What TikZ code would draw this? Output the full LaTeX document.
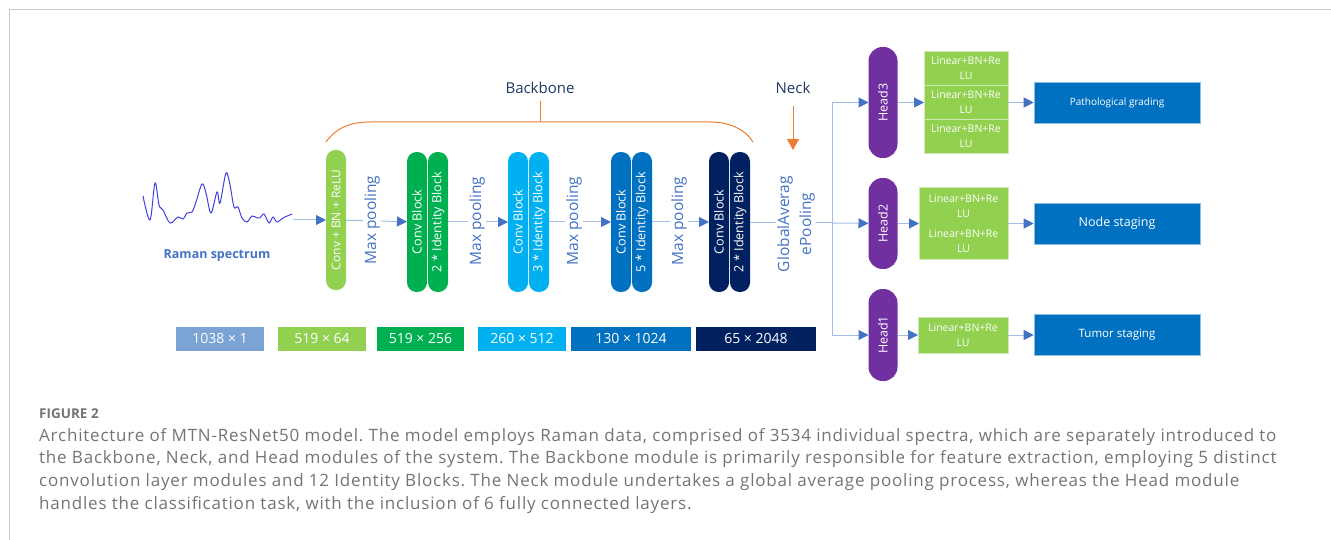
\documentclass[tikz,border=0pt]{standalone}
\usepackage{fontspec}
\setmainfont{Open Sans}
\usetikzlibrary{positioning,arrows.meta}

\definecolor{lgreen}{HTML}{92D050}
\definecolor{dgreen}{HTML}{00B050}
\definecolor{cyanb}{HTML}{00B0F0}
\definecolor{midblue}{HTML}{0070C0}
\definecolor{navyb}{HTML}{002060}
\definecolor{steel}{HTML}{7BA3D4}
\definecolor{headpurple}{HTML}{7030A0}
\definecolor{braceorange}{HTML}{ED7D31}
\definecolor{linkline}{HTML}{A3BFE8}
\definecolor{tipblue}{HTML}{4472C4}
\definecolor{titlenavy}{HTML}{1F3864}
\definecolor{specline}{HTML}{4040E0}
\definecolor{capgray}{HTML}{747474}
\definecolor{framegray}{HTML}{C8C8C8}

\newcommand{\fs}[2]{\fontsize{#1}{#2}\selectfont}

\tikzset{
  block/.style={rounded corners=9.5pt, inner sep=0pt, outer sep=0pt,
    minimum width=20pt, minimum height=140pt, text=white, font=\fs{12.6}{15}},
  head/.style={rounded corners=14pt, inner sep=0pt, outer sep=0pt, fill=headpurple,
    minimum width=29pt, text=white, font=\fs{12.5}{14}},
  lin/.style={fill=lgreen, draw=lgreen!45!white, line width=0.6pt, inner sep=0pt, outer sep=0pt,
    minimum height=34pt, text=white, align=center, font=\fs{10.5}{15}},
  outbox/.style={fill=midblue, draw=midblue!45!white, line width=0.6pt, inner sep=0pt,
    minimum width=166pt, minimum height=41pt, text=white},
  dimbox/.style={inner sep=0pt, minimum height=24pt, text=white, font=\fs{14}{16}},
  pool/.style={rotate=90, fill=white, inner sep=1.5pt, text=tipblue, font=\fs{15.5}{22}, align=center},
  link/.style={draw=linkline, line width=1pt},
  arr/.style={link, -{Triangle[length=10pt,width=10pt,color=tipblue]}},
  brace/.style={draw=braceorange, line width=1pt}
}

\begin{document}
\frenchspacing
\begin{tikzpicture}[x=1pt, y=-1pt]
\useasboundingbox (0,0) rectangle (1331,540);

% frame
\draw[framegray, line width=1pt] (9,540) -- (9,10) -- (1331,10);

% input spectrum
\draw[specline, line width=1pt] plot[smooth, tension=0.55] coordinates {
  (143,196) (150,220) (155,183) (159,205) (163,210) (170,223) (178,217) (183,219)
  (187,213) (192,212) (196,202) (202,184) (206,193) (211,213) (217,192) (220,203)
  (226,173) (230,185) (234,207) (238,207) (242,218) (247,222) (252,216) (257,218)
  (260,218) (264,214) (269,223) (273,217) (277,222) (283,218) (292,214)};
\coordinate (spec) at (293,220);
\node[text=tipblue, font=\bfseries\fs{12.5}{15}] (raman) at (217,256) {Raman spectrum};

% backbone
\node[block, fill=lgreen, font=\fs{12}{15}] (b1) at (336,220) {\rotatebox{90}{Conv + BN + ReLU}};
\node[block, fill=dgreen] (c2) at (417,222) {\rotatebox{90}{Conv Block}};
\node[block, fill=dgreen, right=1pt of c2] (i2) {\rotatebox{90}{2 * Identity Block}};
\node[block, fill=cyanb] (c3) at (518,222) {\rotatebox{90}{Conv Block}};
\node[block, fill=cyanb, right=1pt of c3] (i3) {\rotatebox{90}{3 * Identity Block}};
\node[block, fill=midblue] (c4) at (621,222) {\rotatebox{90}{Conv Block}};
\node[block, fill=midblue, right=1pt of c4] (i4) {\rotatebox{90}{5 * Identity Block}};
\node[block, fill=navyb] (c5) at (719,222) {\rotatebox{90}{Conv Block}};
\node[block, fill=navyb, right=1pt of c5] (i5) {\rotatebox{90}{2 * Identity Block}};

% heads
\node[head, minimum height=111pt] (h3) at (883,102.5) {\rotatebox{90}{Head3}};
\node[head, minimum height=91pt] (h2) at (883,223.5) {\rotatebox{90}{Head2}};
\node[head, minimum height=92pt] (h1) at (883,335) {\rotatebox{90}{Head1}};

\node[lin, minimum width=84pt] (l3b) at (966,102.5) {Linear+BN+Re\\LU};
\node[lin, minimum width=84pt, above=0pt of l3b] (l3a) {Linear+BN+Re\\LU};
\node[lin, minimum width=84pt, below=0pt of l3b] (l3c) {Linear+BN+Re\\LU};
\node[lin, minimum width=89pt, minimum height=72pt] (l2) at (963.5,223.5) {Linear+BN+Re\\LU\\[5pt]Linear+BN+Re\\LU};
\node[lin, minimum width=90pt, minimum height=36pt] (l1) at (963,335) {Linear+BN+Re\\LU};

\node[outbox, font=\fs{10}{12}] (o3) at (1117,102.5) {Pathological grading};
\node[outbox, font=\fs{12.5}{15}] (o2) at (1117,223.5) {Node staging};
\node[outbox, font=\fs{11.5}{14}] (o1) at (1117,335) {Tumor staging};

% feature sizes
\node[dimbox, fill=steel, minimum width=88pt] (d1) at (220,338.5) {1038 × 1};
\node[dimbox, fill=lgreen, minimum width=88pt] (d2) at (322,338.5) {519 × 64};
\node[dimbox, fill=dgreen, minimum width=87pt] (d3) at (420.5,338.5) {519 × 256};
\node[dimbox, fill=cyanb, minimum width=88pt] (d4) at (522,338.5) {260 × 512};
\node[dimbox, fill=midblue, minimum width=120pt] (d5) at (631,338.5) {130 × 1024};
\node[dimbox, fill=navyb, minimum width=120pt] (d6) at (756,338.5) {65 × 2048};

% connectors
\coordinate (jn) at (832,223);
\draw[arr] (spec) -- (b1);
\draw[arr] (b1) -- (c2);
\draw[arr] (i2) -- (c3);
\draw[arr] (i3) -- (c4);
\draw[arr] (i4) -- (c5);
\draw[link] (i5.east |- jn) -- (jn);
\draw[link] (h3.west -| jn) -- (h1.west -| jn);
\draw[arr] (h3.west -| jn) -- (h3);
\draw[arr] (jn) -- (h2);
\draw[arr] (h1.west -| jn) -- (h1);
\draw[arr] (h3) -- (l3b);
\draw[arr] (h2) -- (l2);
\draw[arr] (h1) -- (l1);
\draw[arr] (l3b) -- (o3);
\draw[arr] (l2) -- (o2);
\draw[arr] (l1) -- (o1);

% pooling labels
\node[pool] (mp1) at (372,220) {Max pooling};
\node[pool] (mp2) at (477,221) {Max pooling};
\node[pool] (mp3) at (574,221) {Max pooling};
\node[pool] (mp4) at (679,221) {Max pooling};
\node[pool] (gap) at (796,224) {GlobalAverag\\ePooling};

% backbone / neck marks
\node[text=titlenavy, font=\fs{15}{18}] (bbtxt) at (540,88) {Backbone};
\node[text=titlenavy, font=\fs{15}{18}] (necktxt) at (793,88) {Neck};
\draw[brace] (326,142) .. controls (336,128) and (350,122) .. (370,122) -- (710,122)
  .. controls (730,122) and (746,130) .. (753,142);
\draw[brace] (540,101) -- (540,122);
\draw[brace, -{Triangle[length=11pt,width=12pt]}] (793,106) -- (793,150);

% caption
\node[anchor=west, inner sep=0pt, text=capgray, font=\bfseries\fs{13.5}{15}] (figlab) at (39,414) {FIGURE 2};
\node[anchor=north west, inner sep=0pt, align=left, text=capgray,
  font=\fs{17}{22.7}\addfontfeature{LetterSpace=4.7}] (cap) at (39,428) {%
Architecture of MTN-ResNet50 model. The model employs Raman data, comprised of 3534 individual spectra, which are separately introduced to\\
the Backbone, Neck, and Head modules of the system. The Backbone module is primarily responsible for feature extraction, employing 5 distinct\\
convolution layer modules and 12 Identity Blocks. The Neck module undertakes a global average pooling process, whereas the Head module\\
handles the classification task, with the inclusion of 6 fully connected layers.};
\end{tikzpicture}
\end{document}
